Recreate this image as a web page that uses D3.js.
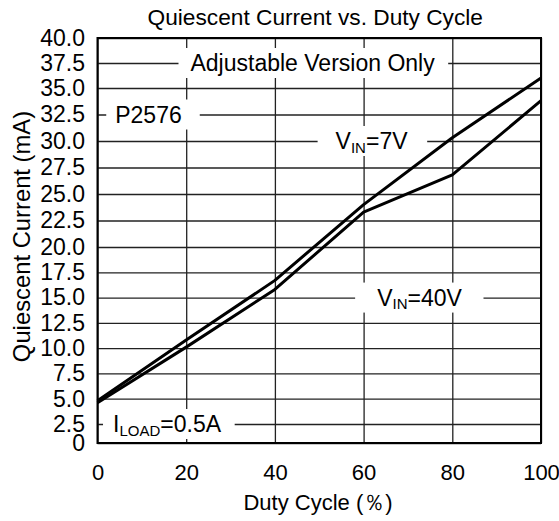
<!DOCTYPE html>
<html lang="en">
<head>
<meta charset="utf-8">
<title>Quiescent Current vs. Duty Cycle</title>
<script src="https://cdnjs.cloudflare.com/ajax/libs/d3/7.8.5/d3.min.js"></script>
<style>
  body { margin: 0; background: #fff; }
  text { font-family: "Liberation Sans", Arial, sans-serif; fill: #000; }
</style>
</head>
<body>
<script>
// data
var duty = [0, 20, 40, 60, 80, 100];
var vin7 = [4.8, 10.8, 16.7, 24.0, 30.3, 36.0];
var vin40 = [4.6, 10.1, 15.8, 23.3, 26.8, 33.8];

var xTicks = [0, 20, 40, 60, 80, 100];
var yTicks = [0, 2.5, 5, 7.5, 10, 12.5, 15, 17.5, 20, 22.5, 25, 27.5, 30, 32.5, 35, 37.5, 40];
var yTickLabels = ["0", "2.5", "5.0", "7.5", "10.0", "12.5", "15.0", "17.5", "20.0",
    "22.5", "25.0", "27.5", "30.0", "32.5", "35.0", "37.5", "40.0"];

// in-plot labels: [x, y, anchor, parts, pad left, pad right]
var notes = [
    [48.5, 37.5, "middle", [["Adjustable Version Only", 0]], 12, 13],
    [4, 32.5, "start", [["P2576", 0]], 9, 18],
    [61.8, 30, "middle", [["V", 0], ["IN", 1], ["=7V", 0]], 18, 19],
    [72.6, 15, "middle", [["V", 0], ["IN", 1], ["=40V", 0]], 22, 21],
    [3.5, 2.5, "start", [["I", 0], ["LOAD", 1], ["=0.5A", 0]], 10, 13]
];

var W = 559, H = 521;
var pLeft = 97.5, pRight = 541, pTop = 38, pBottom = 443;

var svg = d3.select("body").append("svg")
    .attr("width", W)
    .attr("height", H);

var x = d3.scaleLinear().domain([0, 100]).range([pLeft, pRight]);
// the printed axis is not quite even, so follow its gridlines
var y = d3.scaleLinear().domain([0, 2.5, 20, 35, 40]).range([pBottom, 424, 247, 88, pTop]);

// grid
svg.append("g")
    .attr("transform", "translate(" + pLeft + ",0)")
    .call(d3.axisLeft(y).tickValues(yTicks).tickSize(-(pRight - pLeft)).tickFormat(""))
    .call(function(g) { g.select(".domain").remove(); })
    .selectAll("line").attr("stroke", "#222").attr("stroke-width", 1.3);

svg.append("g")
    .attr("transform", "translate(0," + pBottom + ")")
    .call(d3.axisBottom(x).tickValues(xTicks).tickSize(-(pBottom - pTop)).tickFormat(""))
    .call(function(g) { g.select(".domain").remove(); })
    .selectAll("line").attr("stroke", "#222").attr("stroke-width", 1.3);

// labels with white boxes over the grid
notes.forEach(function(n) {
    var g = svg.append("g");
    var t = g.append("text")
        .attr("x", x(n[0]))
        .attr("y", y(n[1]))
        .attr("dy", "0.36em")
        .attr("text-anchor", n[2])
        .style("font-size", "23px");
    n[3].forEach(function(p, i) {
        var s = t.append("tspan").text(p[0]);
        if (p[1]) s.style("font-size", "15px").attr("dy", 3.5);
        else if (i > 0) s.attr("dy", -3.5);
    });
    var b = t.node().getBBox();
    g.insert("rect", "text")
        .attr("x", b.x - n[4])
        .attr("y", y(n[1]) - 15)
        .attr("width", b.width + n[4] + n[5])
        .attr("height", 30)
        .attr("fill", "#fff");
});

// border
svg.append("rect")
    .attr("x", pLeft).attr("y", pTop)
    .attr("width", pRight - pLeft).attr("height", pBottom - pTop)
    .attr("fill", "none").attr("stroke", "#000").attr("stroke-width", 2);

// curves
var line = d3.line()
    .x(function(d, i) { return x(duty[i]); })
    .y(function(d) { return y(d); });

[vin7, vin40].forEach(function(s) {
    svg.append("path")
        .datum(s)
        .attr("d", line)
        .attr("fill", "none")
        .attr("stroke", "#000")
        .attr("stroke-width", 3)
        .attr("stroke-linejoin", "round");
});

// axes text
var ya = svg.append("g")
    .attr("transform", "translate(" + pLeft + ",0)")
    .call(d3.axisLeft(y).tickValues(yTicks).tickSize(0).tickPadding(12.5)
        .tickFormat(function(d, i) { return yTickLabels[i]; }));
ya.select(".domain").remove();
ya.selectAll("text").style("font-size", "23px").attr("fill", "#000");

var xa = svg.append("g")
    .attr("transform", "translate(0," + pBottom + ")")
    .call(d3.axisBottom(x).tickValues(xTicks).tickSize(0).tickPadding(21));
xa.select(".domain").remove();
xa.selectAll("text").style("font-size", "22px").attr("fill", "#000");

svg.append("text")
    .attr("x", (pLeft + pRight) / 2 - 4)
    .attr("y", 24.5)
    .attr("text-anchor", "middle")
    .style("font-size", "22.7px")
    .text("Quiescent Current vs. Duty Cycle");

svg.append("text")
    .attr("transform", "translate(30,236.5) rotate(-90)")
    .attr("text-anchor", "middle")
    .style("font-size", "23.8px")
    .text("Quiescent Current (mA)");

svg.append("text")
    .attr("x", 318)
    .attr("y", 510)
    .attr("text-anchor", "middle")
    .style("font-size", "22px")
    .text("Duty Cycle (％)");
</script>
</body>
</html>
